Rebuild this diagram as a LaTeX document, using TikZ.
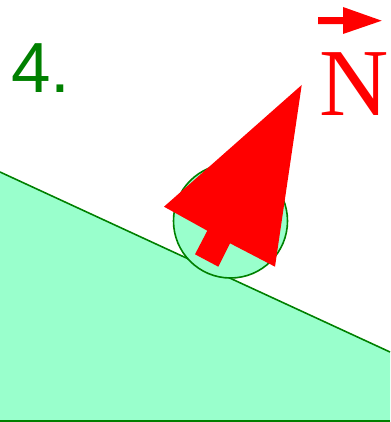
\documentclass[tikz,border=0pt]{standalone}
\usepackage{fontspec}
\setmainfont{Liberation Serif}
\newfontfamily\numfont{Liberation Sans}
\usetikzlibrary{arrows.meta}
\definecolor{mint}{RGB}{153,255,204}
\definecolor{darkgreen}{RGB}{0,128,0}

\begin{document}
\begin{tikzpicture}[x=1pt, y=-1pt,
    ground/.style={draw=darkgreen, line width=1.6pt, fill=mint},
    force/.style={fill=red, draw=none},
    lbl/.style={anchor=base west, inner sep=0pt}]
\useasboundingbox (0,0) rectangle (390,422);
% incline
\fill[mint] (0,172) -- (390,352) -- (390,422) -- (0,422) -- cycle;
\draw[darkgreen, line width=1.6pt] (0,172) -- (390,352);
\draw[darkgreen, line width=3pt] (0,421.5) -- (390,421.5);
% ball
\draw[ground] (230.5,221) circle (57pt);
% normal force
\fill[force] (301.7,85) -- (164,206.7) -- (207.3,230.7) -- (195,254.3)
  -- (218.3,266.7) -- (230,243.3) -- (275,266.7) -- cycle;
% labels
\node[lbl, text=darkgreen, font=\numfont\fontsize{71}{71}\selectfont] (num) at (11,92.7) {4.};
\node[lbl, text=red, font=\fontsize{96}{96}\selectfont] (vecN) at (319,115.5) {N};
\fill[force] (318,17.2) -- (343,17.2) -- (343,7) -- (381.7,20.7)
  -- (343,34) -- (343,24.2) -- (318,24.2) -- cycle;
\end{tikzpicture}
\end{document}
